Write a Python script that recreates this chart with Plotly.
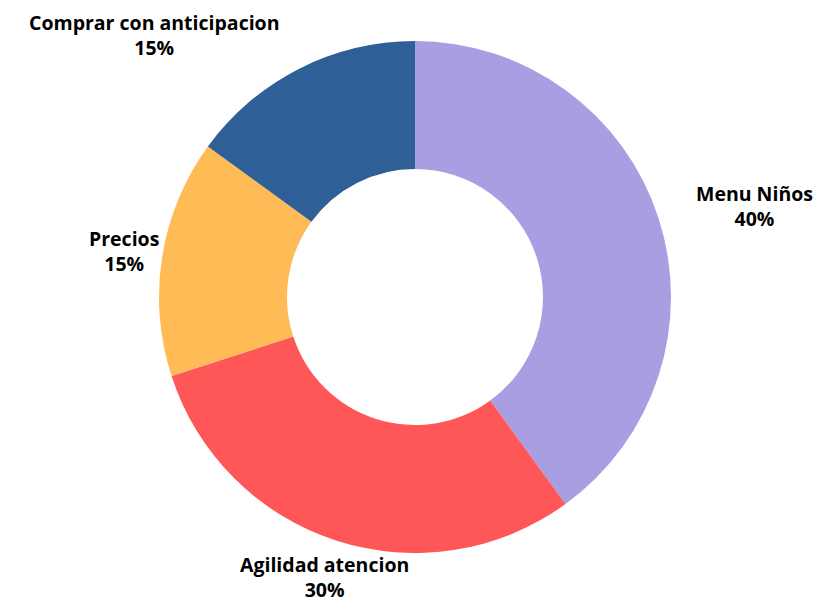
import math
import plotly.graph_objects as go

labels = ["Menu Niños", "Agilidad atencion", "Precios", "Comprar con anticipacion"]
values = [40, 30, 15, 15]
colors = ["#A79FE2", "#FF5757", "#FFBB56", "#2E5F96"]
label_anchor = ["left", "center", "center", "right"]

fig = go.Figure(go.Pie(
    labels=labels,
    values=values,
    hole=0.5,
    sort=False,
    direction="clockwise",
    rotation=0,
    marker=dict(colors=colors, line=dict(width=0)),
    textinfo="none",
    showlegend=False,
    hoverinfo="label+percent",
))

# Outside labels placed at the angular midpoint of each slice
total = sum(values)
label_r = 0.5 * 1.15  # in paper units (pie radius = 0.5 of the square domain)
cum = 0
annotations = []
for lab, v, anc in zip(labels, values, label_anchor):
    mid = (cum + v / 2) / total * 2 * math.pi
    cum += v
    annotations.append(dict(
        x=0.5 + label_r * math.sin(mid),
        y=0.5 + label_r * math.cos(mid),
        xref="paper", yref="paper",
        text=f"<b>{lab}</b><br><b>{v / total * 100:.0f}%</b>",
        showarrow=False,
        xanchor=anc, yanchor="middle", align="center",
        borderpad=0,
        font=dict(family="Open Sans", size=19.5, color="black"),
    ))

fig.update_layout(
    width=829, height=605,
    margin=dict(l=151, r=166, t=33, b=60),
    paper_bgcolor="white",
    plot_bgcolor="white",
    annotations=annotations,
)

fig.write_html("out.html")
